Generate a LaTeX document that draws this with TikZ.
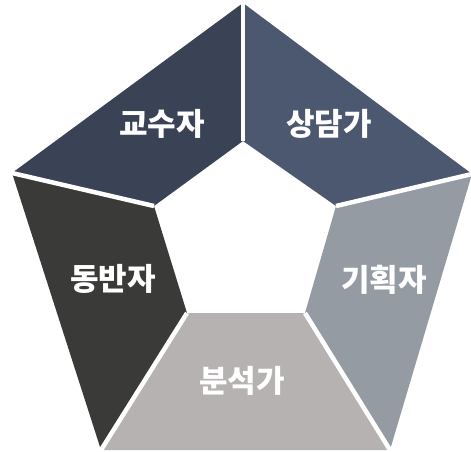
\documentclass[tikz,border=0pt]{standalone}
\usepackage{fontspec}
\newfontfamily\kr{Noto Sans CJK KR}
\definecolor{cA}{HTML}{3A4356}
\definecolor{cB}{HTML}{4C5770}
\definecolor{cC}{HTML}{949BA3}
\definecolor{cD}{HTML}{B7B2B2}
\definecolor{cE}{HTML}{3A3A38}
\tikzset{
  lbl/.style={text=white, font=\kr\bfseries\fontsize{31}{34}\selectfont, inner sep=0pt},
  sep/.style={draw=white, line width=4.5pt},
}
\begin{document}
\begin{tikzpicture}[x=1pt,y=-1pt]
\useasboundingbox (0,0) rectangle (471,451);
% outer vertices
\coordinate (T) at (243,3);
\coordinate (UL) at (12,173);
\coordinate (LL) at (101,450);
\coordinate (LR) at (390,450);
\coordinate (UR) at (472,174);
% inner vertices
\coordinate (t) at (243,141);
\coordinate (ul) at (154,206);
\coordinate (ll) at (187,313);
\coordinate (lr) at (305,313);
\coordinate (ur) at (336,206);
% segments
\fill[cA] (T) -- (t) -- (ul) -- (UL) -- cycle;
\fill[cB] (T) -- (UR) -- (ur) -- (t) -- cycle;
\fill[cC] (UR) -- (LR) -- (lr) -- (ur) -- cycle;
\fill[cD] (LR) -- (LL) -- (ll) -- (lr) -- cycle;
\fill[cE] (LL) -- (UL) -- (ul) -- (ll) -- cycle;
% separators
\draw[sep] (T) -- (t);
\draw[sep] (UR) -- (ur);
\draw[sep] (LR) -- (lr);
\draw[sep] (LL) -- (ll);
\draw[sep] (UL) -- (ul);
% labels
\node[lbl] (n1) at (162,124) {교수자};
\node[lbl] (n2) at (329,124) {상담가};
\node[lbl] (n3) at (384,280) {기획자};
\node[lbl] (n4) at (242,381) {분석가};
\node[lbl] (n5) at (113,279) {동반자};
\end{tikzpicture}
\end{document}
